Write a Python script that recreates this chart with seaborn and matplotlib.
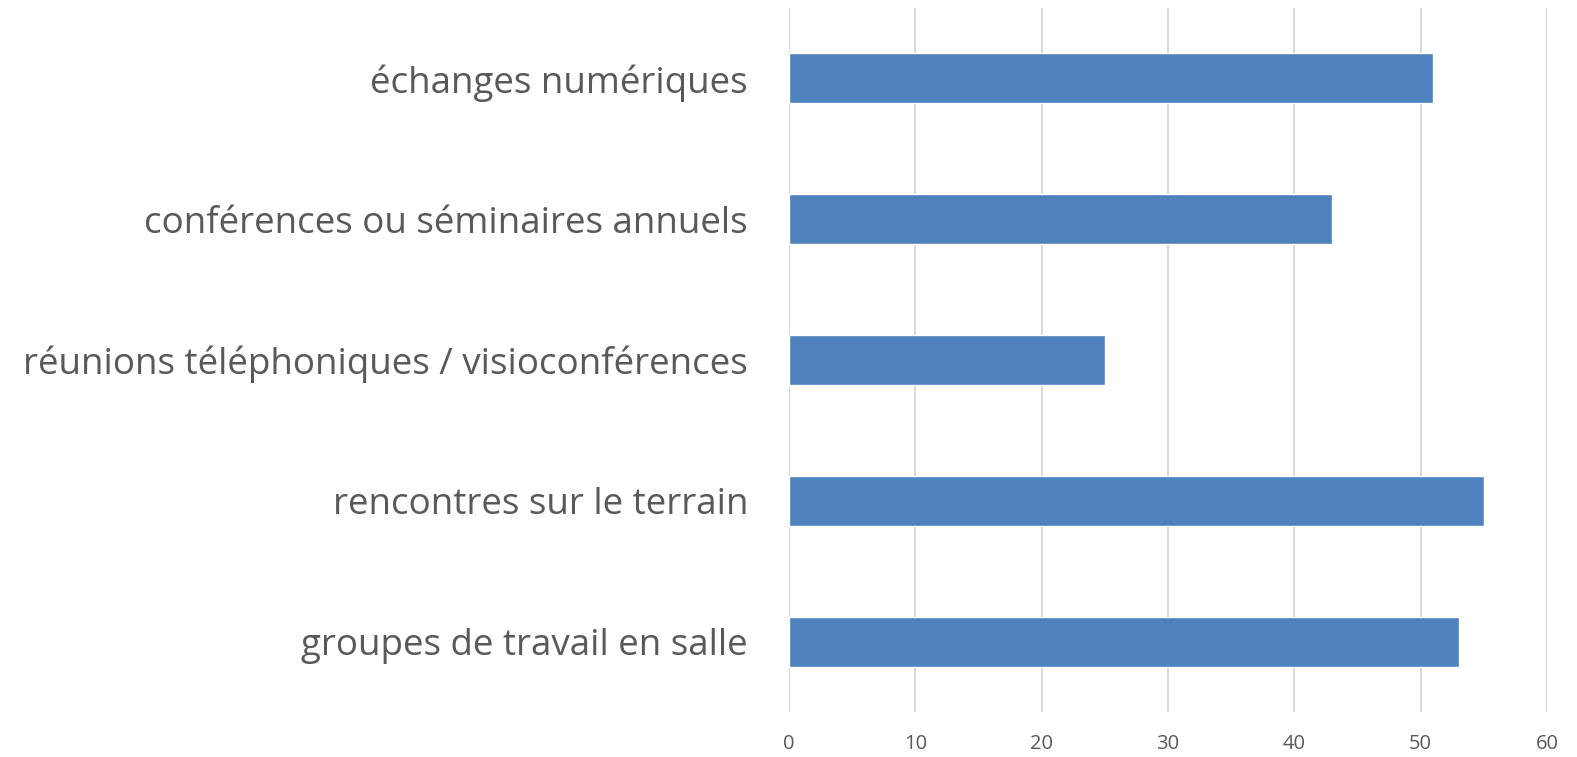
import pandas as pd
import seaborn as sns
import matplotlib.pyplot as plt

categories = ['échanges numériques', 'conférences ou séminaires annuels',
              'réunions téléphoniques / visioconférences', 'rencontres sur le terrain',
              'groupes de travail en salle']
values = [51, 43, 25, 55, 53]
xticks = [0, 10, 20, 30, 40, 50, 60]

data = pd.DataFrame({'categorie': categories, 'valeur': values})

sns.set_style('white')
plt.rcParams['font.family'] = ['Open Sans', 'DejaVu Sans']

fig = plt.figure(figsize=(15.77, 7.57), dpi=100)
ax = fig.add_axes([789 / 1577, 1 - 712 / 757, (1547 - 789) / 1577, (712 - 8) / 757])

sns.barplot(x='valeur', y='categorie', data=data, color='#4F81BD', width=0.355,
            saturation=1, errorbar=None, ax=ax, zorder=3)

ax.set_xlim(0, 60)
ax.set_xticks(xticks)
ax.xaxis.grid(True, color='#D9D9D9', linewidth=1.5, zorder=0)
ax.set_axisbelow(True)
for s in ax.spines.values():
    s.set_visible(False)
ax.tick_params(axis='x', length=0, pad=16, labelsize=14.5, labelcolor='#595959')
ax.tick_params(axis='y', length=0, pad=29.5, labelsize=26.5, labelcolor='#595959')
ax.set_xlabel('')
ax.set_ylabel('')

plt.savefig('out.png', dpi=100)
